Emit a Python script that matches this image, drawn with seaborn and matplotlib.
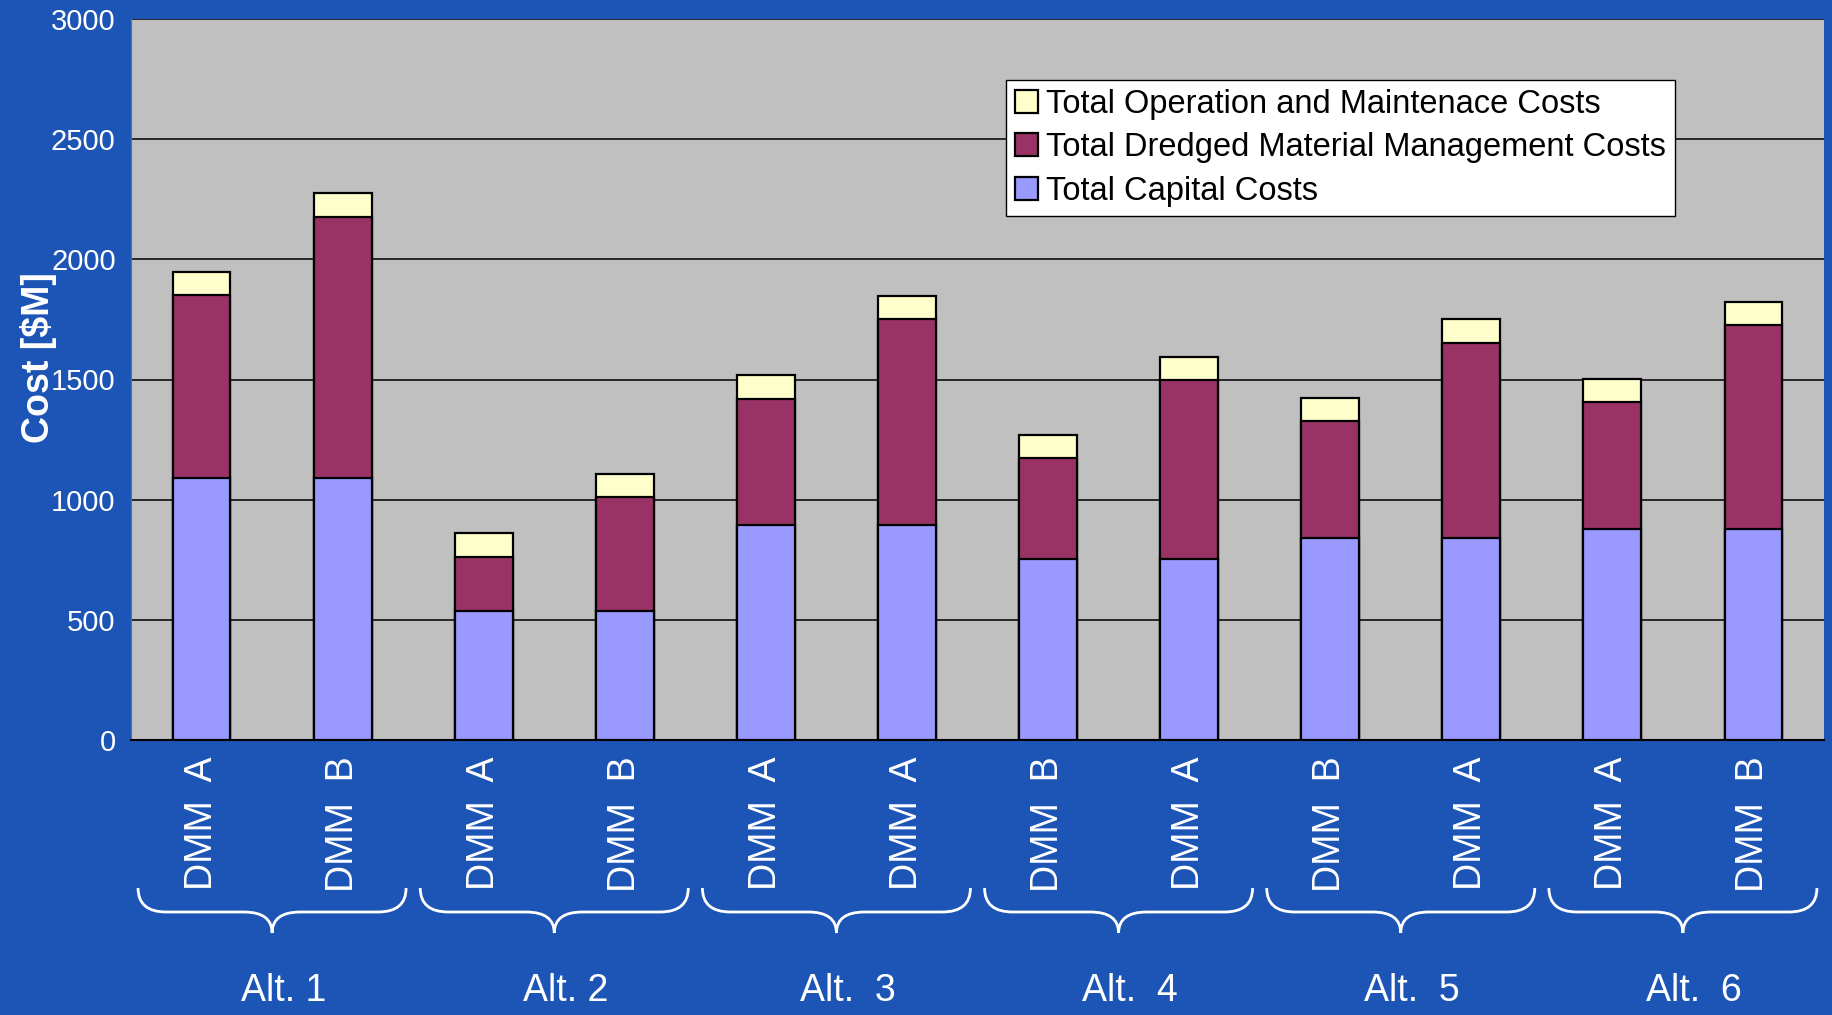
import matplotlib
matplotlib.use("Agg")
import matplotlib.pyplot as plt
import seaborn as sns
import pandas as pd
from matplotlib.patches import Patch, PathPatch
from matplotlib.path import Path
from matplotlib.transforms import blended_transform_factory

# values ($M)
bar_labels = ["DMM  A", "DMM  B", "DMM  A", "DMM  B", "DMM  A", "DMM  A",
              "DMM  B", "DMM  A", "DMM  B", "DMM  A", "DMM  A", "DMM  B"]
alt_labels = ["Alt. 1", "Alt. 2", "Alt.  3", "Alt.  4", "Alt.  5", "Alt.  6"]
capital = [1090, 1090, 535, 535, 895, 895, 753, 753, 841, 841, 880, 880]
dredged = [762, 1088, 228, 476, 525, 855, 419, 744, 486, 812, 525, 846]
om = [97, 97, 97, 97, 97, 97, 97, 97, 97, 97, 97, 97]

series_names = ["Total Operation and Maintenace Costs",
                "Total Dredged Material Management Costs",
                "Total Capital Costs"]
c_om, c_dmm, c_cap = "#FFFFCC", "#993366", "#9999FF"
bg = "#1C55B5"

df = pd.DataFrame({"key": [f"b{i}" for i in range(len(capital))],
                   "capital": capital, "dredged": dredged, "om": om})
df["dmm_top"] = df["capital"] + df["dredged"]
df["total"] = df["dmm_top"] + df["om"]

sns.set_style("white")
plt.rcParams["font.family"] = ["Liberation Sans", "DejaVu Sans"]

fig = plt.figure(figsize=(18.33, 10.15), dpi=100, facecolor=bg)
ax = fig.add_axes([131 / 1833, 1 - 740 / 1015, (1824 - 131) / 1833, (740 - 19) / 1015])
ax.set_facecolor("#C0C0C0")

# stacked bars: draw cumulative tops first, lower segments over them
for col, colr in [("total", c_om), ("dmm_top", c_dmm), ("capital", c_cap)]:
    sns.barplot(data=df, x="key", y=col, order=list(df["key"]), color=colr,
                saturation=1, width=0.41, edgecolor="black", linewidth=1.6,
                errorbar=None, ax=ax, zorder=3)

ax.set_xlim(-0.5, len(capital) - 0.5)
ax.set_ylim(0, 3000)
ax.set_yticks(range(0, 3001, 500))
ax.yaxis.grid(True, color="black", linewidth=1.1, zorder=0)
ax.set_axisbelow(True)

ax.set_xticks(range(len(capital)))
ax.set_xticklabels(bar_labels, rotation=90, color="white", fontsize=27, va="top")
ax.set_xticks([i - 0.5 for i in range(len(capital) + 1)], minor=True)
ax.tick_params(axis="x", which="major", length=0, pad=12)
ax.tick_params(axis="x", which="minor", length=10, width=1.2, color="black", direction="out")
ax.tick_params(axis="y", length=7, width=1.2, color="black", direction="out",
               labelcolor="white", labelsize=21, pad=4)

for s in ["top", "right"]:
    ax.spines[s].set_visible(False)
ax.spines["left"].set_color("#707070")
ax.spines["bottom"].set_color("black")
ax.spines["bottom"].set_linewidth(1.5)

ax.set_xlabel("")
ax.set_ylabel("Cost [$M]", color="white", fontsize=27, fontweight="bold")
ax.yaxis.set_label_coords(-0.0435, 0.53)

handles = [Patch(facecolor=c, edgecolor="black", linewidth=1.6) for c in (c_om, c_dmm, c_cap)]
leg = ax.legend(handles, series_names, loc="upper left", bbox_to_anchor=(0.517, 0.916),
                fontsize=23.5, frameon=True, fancybox=False, framealpha=1,
                edgecolor="black", handlelength=0.7, handleheight=0.7,
                handletextpad=0.25, labelspacing=0.38, borderpad=0.28, borderaxespad=0)
leg.get_frame().set_linewidth(1)
for t in leg.get_texts():
    t.set_color("black")

# braces under each pair of bars, plus group labels
trans = blended_transform_factory(ax.transData, fig.transFigure)
y_top, y_mid, y_tip = 1 - 888 / 1015, 1 - 912 / 1015, 1 - 933 / 1015
half, r = 0.95, 0.2
for g, name in enumerate(alt_labels):
    c = 2 * g + 0.5
    verts = [(c - half, y_top), (c - half, y_mid), (c - half + r, y_mid),
             (c - r, y_mid),
             (c, y_mid), (c, y_tip),
             (c, y_mid), (c + r, y_mid),
             (c + half - r, y_mid),
             (c + half, y_mid), (c + half, y_top)]
    codes = [Path.MOVETO, Path.CURVE3, Path.CURVE3,
             Path.LINETO,
             Path.CURVE3, Path.CURVE3,
             Path.CURVE3, Path.CURVE3,
             Path.LINETO,
             Path.CURVE3, Path.CURVE3]
    fig.add_artist(PathPatch(Path(verts, codes), fill=False, edgecolor="white",
                             linewidth=2, transform=trans, clip_on=False))
    fig.text(c + 0.08, 0.006, name, transform=trans, ha="center", va="bottom",
             color="white", fontsize=27)

fig.savefig("out.png", dpi=100, facecolor=bg)
